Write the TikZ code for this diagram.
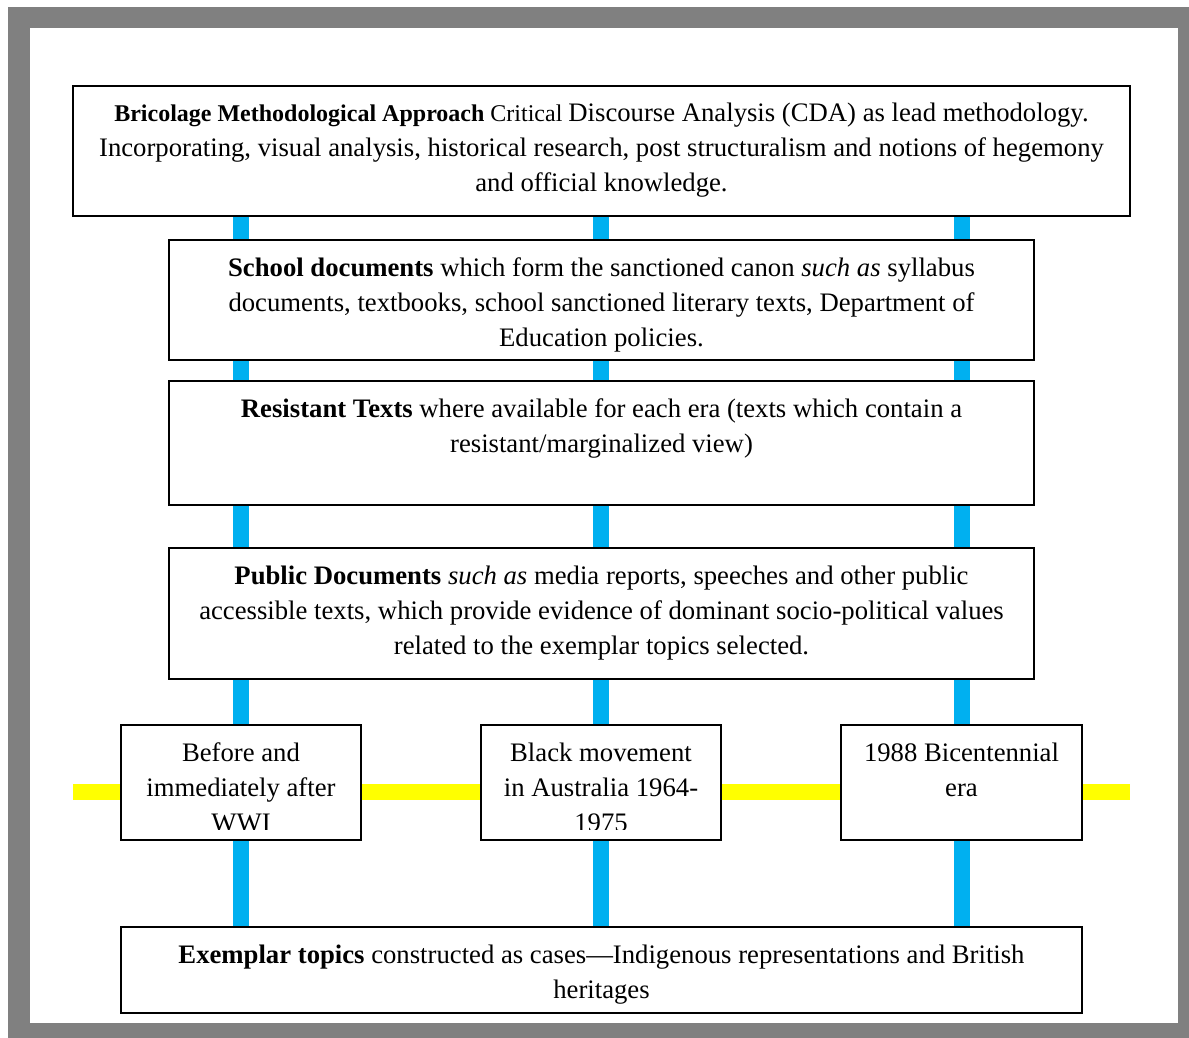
\documentclass[tikz,border=0pt]{standalone}
\usepackage{fontspec}
\setmainfont{Liberation Serif}
\usetikzlibrary{calc}
\pgfdeclarelayer{frame}
\pgfdeclarelayer{bg}
\pgfsetlayers{frame,bg,main}
\definecolor{lineblue}{HTML}{00B0F0}
\definecolor{lineyellow}{HTML}{FFFF00}
\definecolor{framegray}{HTML}{808080}
\newcommand{\boxtxt}[3]{\parbox[t][#2pt][t]{#1pt}{\centering\rule{0pt}{36pt}#3\par}}
\newcommand{\smallfs}{\fontsize{24}{35}\selectfont}
\tikzset{
  box/.style={draw=black, line width=1.6pt, fill=white, inner sep=0pt, outer sep=0pt,
    anchor=north west, font=\fontsize{26.7}{35}\selectfont},
  txtonly/.style={inner sep=0pt, outer sep=0pt, font=\fontsize{26.7}{35}\selectfont},
  blueline/.style={draw=lineblue, line width=16pt},
  yellowline/.style={draw=lineyellow, line width=16pt},
}
\begin{document}
\begin{tikzpicture}[x=1pt,y=-1pt]
\useasboundingbox (0,0) rectangle (1189,1038);
\begin{pgfonlayer}{frame}
\fill[white] (0,0) rectangle (1189,1038);
\fill[framegray] (8,7) rectangle (1189,1038);
\fill[white] (30,28) rectangle (1178,1023);
\end{pgfonlayer}

\node[box] (top) at (73,86) {\boxtxt{1057}{130}{{\smallfs\textbf{Bricolage Methodological Approach} Critical }Discourse Analysis (CDA) as lead methodology.\\ Incorporating, visual analysis, historical research, post structuralism and notions of hegemony\\ and official knowledge.}};

\node[box] (school) at (169,240) {\boxtxt{865}{120}{\textbf{School documents} which form the sanctioned canon \textit{such as} syllabus\\ documents, textbooks, school sanctioned literary texts, Department of\\ Education policies.}};

\node[box] (resist) at (169,381) {\boxtxt{865}{124}{\textbf{Resistant Texts} where available for each era (texts which contain a\\ resistant/marginalized view)}};

\node[box] (public) at (169,548) {\boxtxt{865}{131}{\textbf{Public Documents} \textit{such as} media reports, speeches and other public\\ accessible texts, which provide evidence of dominant socio-political values\\ related to the exemplar topics selected.}};

\node[box, minimum width=240pt, minimum height=115pt] (e1) at (121,725) {};
\node[box, minimum width=240pt, minimum height=115pt] (e2) at (481,725) {};
\node[box, minimum width=241pt, minimum height=115pt] (e3) at (841,725) {};
\begin{scope}
\clip (e1.north west) rectangle ($(e1.south east)+(0,-11)$);
\node[txtonly, anchor=north] (e1t) at (e1.north) {\boxtxt{240}{115}{Before and\\ immediately after\\ WWI}};
\end{scope}
\begin{scope}
\clip (e2.north west) rectangle ($(e2.south east)+(0,-11)$);
\node[txtonly, anchor=north] (e2t) at (e2.north) {\boxtxt{240}{115}{Black movement\\ in Australia 1964-\\ 1975}};
\end{scope}
\begin{scope}
\clip (e3.north west) rectangle ($(e3.south east)+(0,-11)$);
\node[txtonly, anchor=north] (e3t) at (e3.north) {\boxtxt{241}{115}{1988 Bicentennial\\ era}};
\end{scope}

\node[box] (ex) at (121,927) {\boxtxt{961}{86}{\textbf{Exemplar topics} constructed as cases---Indigenous representations and British\\ heritages}};

\coordinate (yl) at (73,792);
\coordinate (yr) at (1130,792);
\begin{pgfonlayer}{bg}
\foreach \e in {e1,e2,e3}
  \draw[blueline] (top.south -| \e.center) -- (ex.north -| \e.center);
\draw[yellowline] (yl) -- (yr);
\end{pgfonlayer}
\end{tikzpicture}
\end{document}
